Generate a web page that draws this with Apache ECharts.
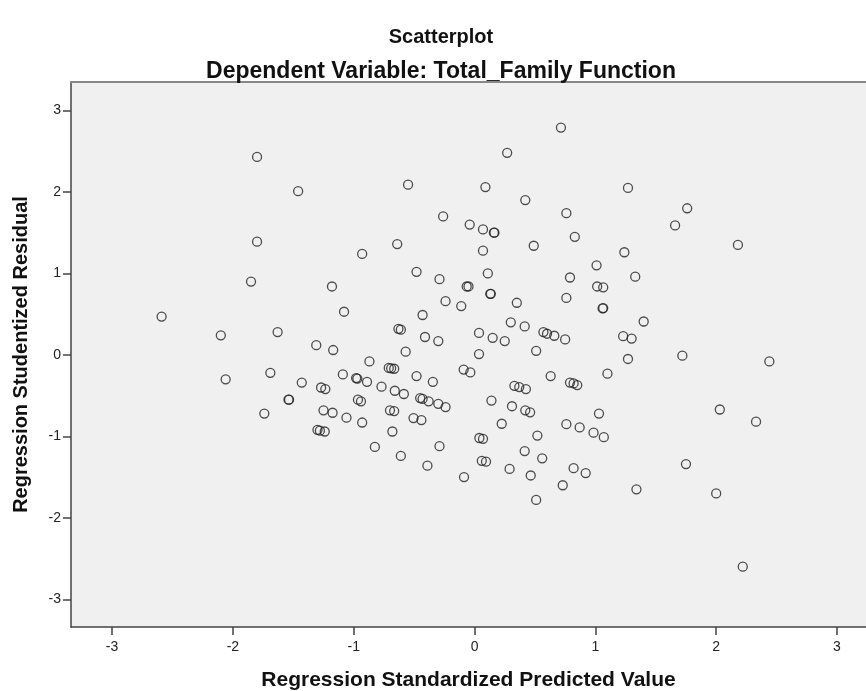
<!DOCTYPE html>
<html>
<head>
<meta charset="utf-8">
<script src="https://cdn.jsdelivr.net/npm/echarts@6/dist/echarts.min.js"></script>
<style>
  html, body { margin: 0; padding: 0; background: #fff; }
  #main { width: 866px; height: 691px; }
</style>
</head>
<body>
<div id="main"></div>
<script>
// Regression Standardized Predicted Value (x) and Studentized Residual (y)
var predicted = [
  -2.59, -2.10, -2.06, -1.85, -1.80, -1.80, -1.74, -1.69, -1.63, -1.54,
  -1.535, -1.46, -1.43, -1.31, -1.30, -1.28, -1.24, -1.27, -1.235, -1.25,
  -1.175, -1.18, -1.17, -1.09, -1.08, -1.06, -0.98, -0.97, -0.965, -0.94,
  -0.93, -0.93, -0.89, -0.87, -0.825, -0.77, -0.71, -0.69, -0.665, -0.70,
  -0.665, -0.68, -0.66, -0.64, -0.63, -0.61, -0.61, -0.585, -0.57, -0.55,
  -0.505, -0.48, -0.48, -0.45, -0.43, -0.44, -0.43, -0.41, -0.39, -0.38,
  -0.345, -0.30, -0.30, -0.29, -0.29, -0.26, -0.24, -0.24, -0.11, -0.09,
  -0.087, -0.065, -0.05, -0.04, -0.035, 0.037, 0.037, 0.04, 0.07, 0.06,
  0.095, 0.07, 0.07, 0.09, 0.11, 0.13, 0.135, 0.14, 0.15, 0.16,
  0.165, 0.225, 0.25, 0.27, 0.29, 0.30, 0.31, 0.33, 0.37, 0.35,
  0.415, 0.415, 0.42, 0.425, 0.42, 0.46, 0.465, 0.49, 0.51, 0.51,
  0.52, 0.56, 0.57, 0.60, 0.66, 0.63, 0.715, 0.73, 0.75, 0.76,
  0.76, 0.76, 0.79, 0.79, 0.82, 0.85, 0.82, 0.83, 0.87, 0.92,
  0.985, 1.01, 1.015, 1.065, 1.06, 1.065, 1.03, 1.07, 1.10, 1.23,
  1.24, 1.27, 1.27, 1.30, 1.33, 1.34, 1.40, 1.66, 1.72, 1.75,
  1.76, 2.00, 2.03, 2.18, 2.22, 2.33, 2.44
];
var residual = [
  0.47, 0.24, -0.30, 0.90, 2.43, 1.39, -0.72, -0.22, 0.28, -0.55,
  -0.55, 2.01, -0.34, 0.12, -0.92, -0.93, -0.94, -0.40, -0.42, -0.68,
  -0.71, 0.84, 0.06, -0.24, 0.53, -0.77, -0.285, -0.29, -0.55, -0.57,
  1.24, -0.83, -0.33, -0.08, -1.13, -0.39, -0.16, -0.165, -0.17, -0.68,
  -0.69, -0.94, -0.44, 1.36, 0.32, 0.31, -1.24, -0.48, 0.04, 2.09,
  -0.775, 1.02, -0.26, -0.53, -0.54, -0.80, 0.49, 0.22, -1.36, -0.57,
  -0.33, 0.17, -0.60, 0.93, -1.12, 1.70, 0.66, -0.64, 0.60, -0.18,
  -1.50, 0.84, 0.84, 1.60, -0.215, 0.27, 0.01, -1.02, -1.03, -1.30,
  -1.31, 1.54, 1.28, 2.06, 1.00, 0.75, 0.75, -0.56, 0.21, 1.50,
  1.50, -0.845, 0.17, 2.48, -1.40, 0.40, -0.63, -0.38, -0.395, 0.64,
  0.35, -1.18, 1.90, -0.42, -0.68, -0.705, -1.48, 1.34, 0.05, -1.78,
  -0.99, -1.27, 0.28, 0.26, 0.235, -0.26, 2.79, -1.60, 0.19, 1.74,
  0.70, -0.85, 0.95, -0.34, -0.35, -0.37, -1.39, 1.45, -0.89, -1.45,
  -0.955, 1.10, 0.84, 0.83, 0.57, 0.575, -0.72, -1.01, -0.23, 0.23,
  1.26, 2.05, -0.05, 0.20, 0.96, -1.65, 0.41, 1.59, -0.01, -1.34,
  1.80, -1.70, -0.67, 1.35, -2.60, -0.82, -0.08
];
var xTicks = [-3, -2, -1, 0, 1, 2, 3];
var yTicks = [-3, -2, -1, 0, 1, 2, 3];

var font = "'Liberation Sans', Arial, sans-serif";
var points = predicted.map(function (x, i) { return [x, residual[i]]; });

var chartDom = document.getElementById("main");
var myChart = echarts.init(chartDom);

var axisLine = { show: true, onZero: false, lineStyle: { color: "#444", width: 1.5 } };
var tickStyle = { color: "#444", width: 1.5 };

var option = {
  animation: false,
  backgroundColor: "#fff",
  title: [
    {
      text: "Scatterplot",
      left: 436,
      top: 22,
      textAlign: "center",
      textStyle: { fontFamily: font, fontSize: 20, fontWeight: "bold", color: "#111" }
    },
    {
      text: "Dependent Variable: Total_Family Function",
      left: 436,
      top: 55,
      textAlign: "center",
      textStyle: { fontFamily: font, fontSize: 23, fontWeight: "bold", color: "#111" }
    }
  ],
  grid: {
    left: 71,
    top: 82,
    right: 0,
    bottom: 64,
    outerBoundsMode: "none",
    containLabel: false,
    show: true,
    backgroundColor: "#f0f0f0",
    borderWidth: 0
  },
  xAxis: [
    {
      type: "value",
      min: -3.34,
      max: 3.24,
      position: "bottom",
      name: "Regression Standardized Predicted Value",
      nameLocation: "middle",
      nameGap: 43,
      nameTextStyle: { fontFamily: font, fontSize: 21, fontWeight: "bold", color: "#111" },
      axisLine: axisLine,
      axisTick: { show: true, inside: false, customValues: xTicks, length: 8, lineStyle: tickStyle },
      axisLabel: { customValues: xTicks, fontFamily: font, fontSize: 14, color: "#222", margin: 13 },
      splitLine: { show: false }
    },
    {
      type: "value",
      min: -3.34,
      max: 3.24,
      position: "top",
      axisLine: { show: true, onZero: false, lineStyle: { color: "#888", width: 2 } },
      axisTick: { show: false },
      axisLabel: { show: false },
      splitLine: { show: false }
    }
  ],
  yAxis: {
    type: "value",
    min: -3.34,
    max: 3.35,
    name: "Regression Studentized Residual",
    nameLocation: "middle",
    nameGap: 40,
    nameTextStyle: { fontFamily: font, fontSize: 20, fontWeight: "bold", color: "#111" },
    axisLine: axisLine,
    axisTick: { show: true, inside: false, customValues: yTicks, length: 8, lineStyle: tickStyle },
    axisLabel: { customValues: yTicks, fontFamily: font, fontSize: 14, color: "#222", margin: 10 },
    splitLine: { show: false }
  },
  series: [
    {
      type: "scatter",
      xAxisIndex: 0,
      data: points,
      symbol: "circle",
      symbolSize: 9,
      itemStyle: { color: "rgba(0,0,0,0)", borderColor: "#222", borderWidth: 1.3 },
      emphasis: { disabled: true }
    }
  ]
};

option && myChart.setOption(option);
</script>
</body>
</html>
